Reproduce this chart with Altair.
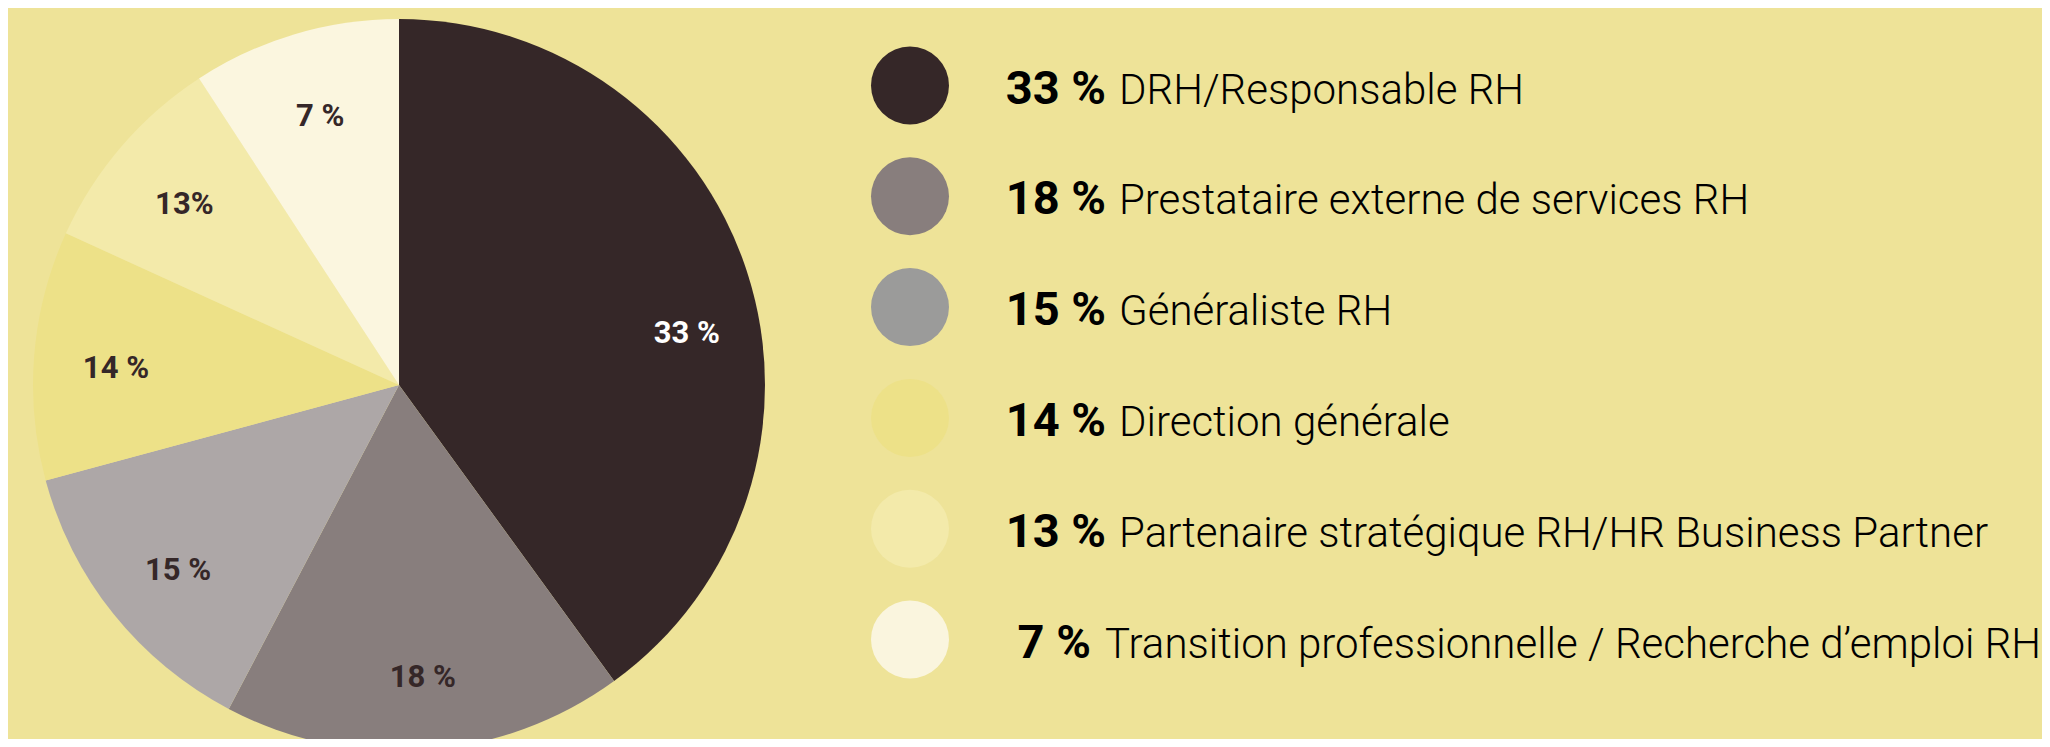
import altair as alt
import pandas as pd

categories = [
    "DRH/Responsable RH",
    "Prestataire externe de services RH",
    "Généraliste RH",
    "Direction générale",
    "Partenaire stratégique RH/HR Business Partner",
    "Transition professionnelle / Recherche d’emploi RH",
]
legend_pct = ["33 %", "18 %", "15 %", "14 %", "13 %", "7 %"]
slice_labels = ["33 %", "18 %", "15 %", "14 %", "13%", "7 %"]
# visual slice sizes as drawn in the picture (percent of the full circle)
slice_share = [40.0, 17.7, 13.1, 11.0, 9.0, 9.2]

slice_colors = ["#352728", "#887E7D", "#ADA7A7", "#EDE188", "#F3EAAA", "#FBF6DF"]
legend_colors = ["#352728", "#887E7D", "#9B9B9A", "#EDE188", "#F3EAAA", "#FAF5DE"]
BG = "#EEE398"

df = pd.DataFrame({
    "row": list(range(len(categories))),
    "cat": categories,
    "lpct": legend_pct,
    "slabel": slice_labels,
    "share": slice_share,
})

CX, CY, R = 391, 377, 366
base = alt.Chart(df)

pie = base.mark_arc(radius=R, strokeWidth=0).encode(
    theta=alt.Theta("share:Q", stack=True, scale=alt.Scale(domain=[0, 100])),
    color=alt.Color("cat:N", scale=alt.Scale(domain=categories, range=slice_colors), legend=None),
    order=alt.Order("row:Q", sort="ascending"),
    x=alt.value(CX),
    y=alt.value(CY),
)

lab = base.transform_window(
    cum="sum(share)", sort=[alt.SortField("row", order="ascending")], frame=[None, 0]
).transform_calculate(mid="datum.cum - datum.share / 2")

lab_light = lab.transform_filter("datum.row > 0").mark_text(
    radius=287, font="Roboto", fontWeight="bold", fontSize=31, color="#352728",
    align="center", baseline="middle", dx=3, dy=7,
).encode(
    theta=alt.Theta("mid:Q", stack=False, scale=alt.Scale(domain=[0, 100])),
    text="slabel:N",
    x=alt.value(CX),
    y=alt.value(CY),
)

lab_dark = lab.transform_filter("datum.row == 0").mark_text(
    radius=289, font="Roboto", fontWeight="bold", fontSize=31, color="white",
    align="center", baseline="middle", dx=13, dy=38,
).encode(
    theta=alt.Theta("mid:Q", stack=False, scale=alt.Scale(domain=[0, 100])),
    text="slabel:N",
    x=alt.value(CX),
    y=alt.value(CY),
)

yrow = alt.Y("row:Q", scale=alt.Scale(domain=[0, 5], range=[77.5, 631.5]), axis=None)

leg_circles = base.mark_circle(size=6082, opacity=1).encode(
    x=alt.value(902),
    y=yrow,
    color=alt.Color("cat:N", scale=alt.Scale(domain=categories, range=legend_colors), legend=None),
)

leg_bold = base.transform_calculate(
    bx="datum.row == 5 ? 1009.5 : 997.7"
).mark_text(
    align="left", baseline="alphabetic", dy=18, font="Roboto", fontWeight="bold",
    fontSize=47, color="#000000",
).encode(x=alt.X("bx:Q", scale=None), y=yrow, text="lpct:N")

leg_text = base.transform_calculate(
    tx="datum.row == 5 ? 1097 : 1111"
).mark_text(
    align="left", baseline="alphabetic", dy=18, font="Roboto Light, Roboto", fontWeight=300,
    fontSize=42, color="#000000",
).encode(x=alt.X("tx:Q", scale=None), y=yrow, text="cat:N")

chart = alt.layer(pie, lab_light, lab_dark, leg_circles, leg_bold, leg_text).resolve_scale(
    color="independent"
).properties(
    width=2034, height=731, padding=0, autosize="none", background=BG
).configure_view(stroke=None)

chart.save("out.html", embed_options={"renderer": "svg", "actions": False})
